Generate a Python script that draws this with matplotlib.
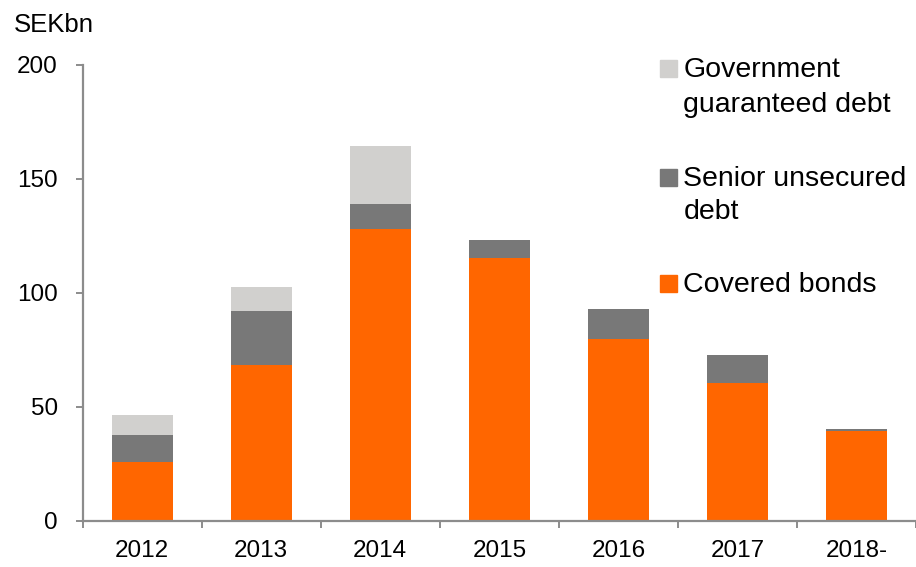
import matplotlib
matplotlib.use("Agg")
import matplotlib.pyplot as plt
from matplotlib.patches import Rectangle
import numpy as np

plt.rcParams['font.family'] = ['Liberation Sans', 'DejaVu Sans']

# Issuance by year, SEK bn
years = ["2012", "2013", "2014", "2015", "2016", "2017", "2018-"]
covered_bonds = [25.6, 68.3, 127.7, 115.3, 79.6, 60.4, 39.4]
senior_unsecured = [12.1, 23.5, 11.3, 7.9, 13.1, 12.1, 0.9]
government_guaranteed = [8.7, 10.5, 25.4, 0.0, 0.0, 0.0, 0.0]

series_labels = ["Covered bonds", "Senior unsecured\ndebt", "Government\nguaranteed debt"]
series_colors = ["#FF6600", "#787878", "#D1D0CE"]
y_ticks = [0, 50, 100, 150, 200]

W, H = 916, 567
fig = plt.figure(figsize=(W / 100, H / 100), dpi=100)

def fx(px):
    return px / W

def fy(py):
    return 1 - py / H

left_px, right_px, top_px, bottom_px = 82.7, 916.0, 64.5, 520.7
ax = fig.add_axes([fx(left_px), fy(bottom_px), fx(right_px - left_px), (bottom_px - top_px) / H])

x = np.arange(len(years))
cat_px = 119.6
ax.set_xlim(-0.5, -0.5 + (right_px - left_px) / cat_px)
ax.set_ylim(0, 200)

bottom = np.zeros(len(years))
for vals, col in zip([covered_bonds, senior_unsecured, government_guaranteed], series_colors):
    v = np.array(vals)
    ax.bar(x, v, width=0.516, bottom=bottom, color=col, edgecolor="none", zorder=2)
    bottom += v

axis_color = "#8C8C8C"
for s in ["top", "right"]:
    ax.spines[s].set_visible(False)
for s in ["left", "bottom"]:
    ax.spines[s].set_color(axis_color)
    ax.spines[s].set_linewidth(1.6)

ax.set_yticks(y_ticks)
ax.set_yticklabels([str(t) for t in y_ticks])
ax.tick_params(axis="y", length=5, width=1.4, color=axis_color, labelsize=17.5, pad=13)

# year labels centred, tick marks on the category boundaries
ax.set_xticks(x)
ax.set_xticklabels(years)
ax.tick_params(axis="x", which="major", length=0, labelsize=17.5, pad=14)
ax.set_xticks(np.arange(-0.5, len(years) + 0.5, 1.0), minor=True)
ax.tick_params(axis="x", which="minor", length=5, width=1.4, color=axis_color)

fig.text(fx(14), fy(32), "SEKbn", fontsize=18.5, va="baseline", ha="left")

# legend, drawn top to bottom: government, senior, covered
legend_rows = [
    (2, 77.0, [77.0, 111.7]),
    (1, 185.5, [185.5, 219.0]),
    (0, 291.5, [292.0]),
]
sq = 16.5
for idx, sq_bottom, baselines in legend_rows:
    fig.add_artist(Rectangle((fx(660), fy(sq_bottom)), fx(sq), sq / H,
                             transform=fig.transFigure, color=series_colors[idx]))
    for line, b in zip(series_labels[idx].split("\n"), baselines):
        fig.text(fx(683.3), fy(b), line, fontsize=20.5, va="baseline", ha="left")

fig.savefig("out.png", dpi=100, facecolor="white")
